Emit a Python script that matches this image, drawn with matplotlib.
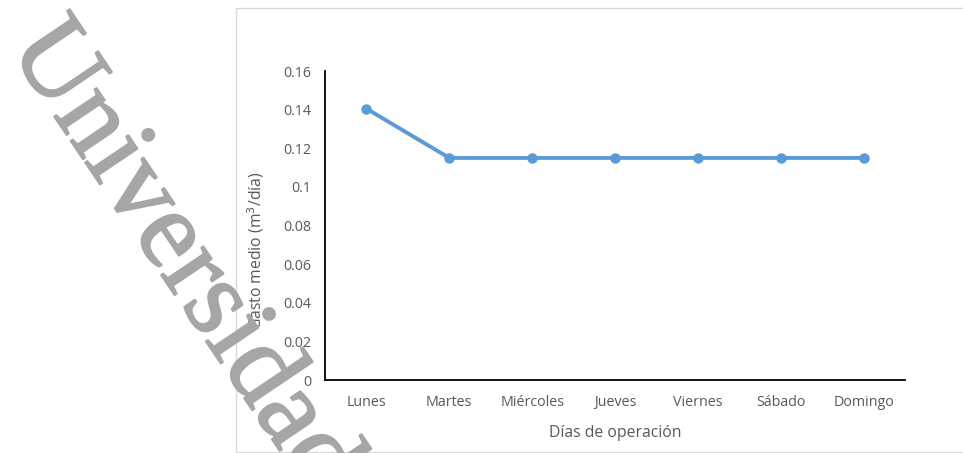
import matplotlib.pyplot as plt
import matplotlib.patheffects as pe
from matplotlib.patches import Rectangle

# daily average water use
dias = ['Lunes', 'Martes', 'Miércoles', 'Jueves', 'Viernes', 'Sábado', 'Domingo']
gasto = [0.1405, 0.115, 0.115, 0.115, 0.115, 0.115, 0.115]
yticks = [0, 0.02, 0.04, 0.06, 0.08, 0.1, 0.12, 0.14, 0.16]
ytick_labels = ['0', '0.02', '0.04', '0.06', '0.08', '0.1', '0.12', '0.14', '0.16']

plt.rcParams['font.family'] = ['Open Sans', 'DejaVu Sans']

fig = plt.figure(figsize=(9.63, 4.53), dpi=100)
ax = fig.add_axes([0.3375, 0.1611, 0.6023, 0.6821])

x = range(len(dias))
ax.plot(x, gasto, color='#5B9BD5', lw=2.8, marker='o', markersize=6.5,
        solid_capstyle='round')

ax.set_xlim(-0.5, len(dias) - 0.5)
ax.set_ylim(0, 0.16)
ax.set_xticks(list(x))
ax.set_xticklabels(dias)
ax.set_yticks(yticks)
ax.set_yticklabels(ytick_labels)
ax.tick_params(length=0, labelsize=10.3, colors='#595959', pad=10)
ax.tick_params(axis='x', pad=11)

for s in ['top', 'right']:
    ax.spines[s].set_visible(False)
for s in ['left', 'bottom']:
    ax.spines[s].set_linewidth(1.3)
    ax.spines[s].set_color('black')

ax.set_xlabel('Días de operación', fontsize=11.3, color='#595959')
ax.xaxis.set_label_coords(0.5, -0.145)
ax.set_ylabel('Gasto medio (m$^3$/día)', fontsize=11.3, color='#595959')
ax.yaxis.set_label_coords(-0.102, 0.42)

# chart area border
fig.patches.append(Rectangle((236 / 963, 1 / 453), 0.8, 444 / 453, transform=fig.transFigure,
                             fill=False, edgecolor='#D9D9D9', lw=1))

# watermark
wm = fig.text(8 / 963, 1 - 48 / 453, 'Universidad', fontsize=80, family='Liberation Serif',
              color='#A6A6A6', rotation=-56, rotation_mode='anchor', ha='left', va='baseline',
              zorder=10)
wm.set_path_effects([pe.withStroke(linewidth=1.5, foreground='#A6A6A6')])

fig.savefig('out.png', dpi=100)
